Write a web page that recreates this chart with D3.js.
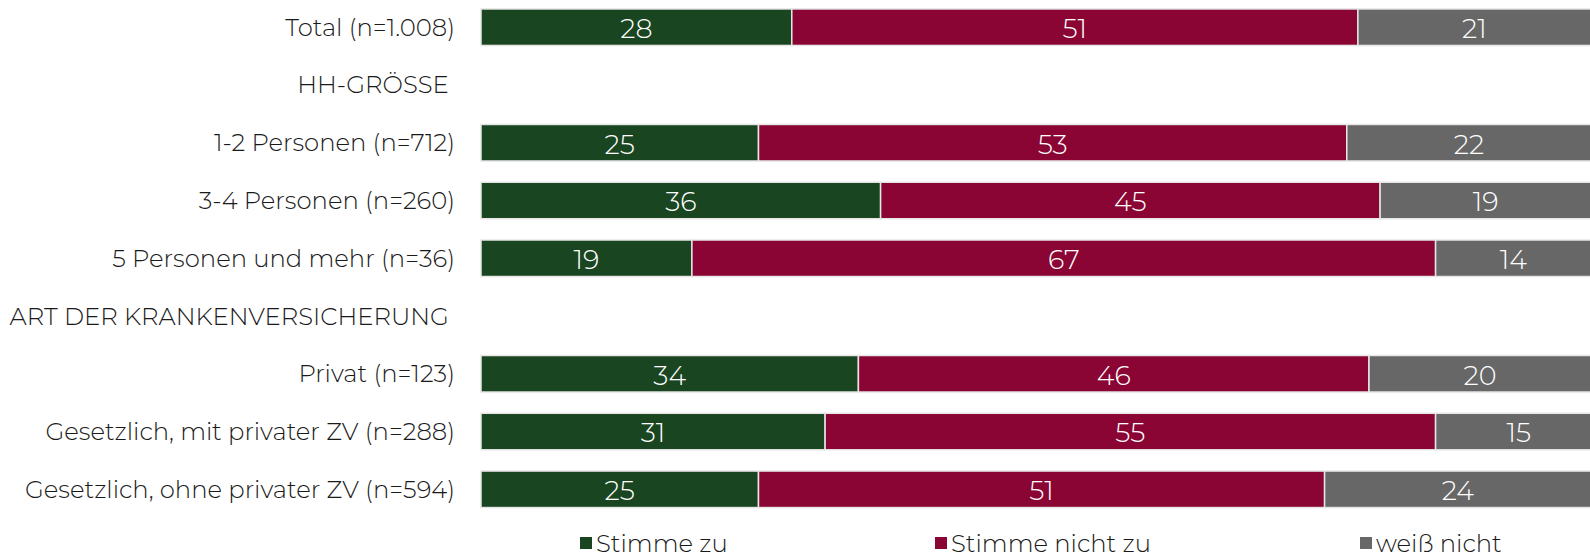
<!DOCTYPE html>
<html>
<head>
<meta charset="utf-8">
<script src="https://cdn.jsdelivr.net/npm/d3@7"></script>
<style>
  html, body { margin: 0; padding: 0; background: #fff; overflow: hidden; }
  text { font-family: "Montserrat", "Open Sans", sans-serif; font-weight: 300; }
</style>
</head>
<body>
<div class="chart"></div>
<script>
var svgWidth = 1590;
var svgHeight = 553;

// rows (header rows carry no values)
var categories = [
  "Total (n=1.008)",
  "HH-GRÖSSE\u00A0",
  "1-2 Personen (n=712)",
  "3-4 Personen (n=260)",
  "5 Personen und mehr (n=36)",
  "ART DER KRANKENVERSICHERUNG\u00A0",
  "Privat (n=123)",
  "Gesetzlich, mit privater ZV (n=288)",
  "Gesetzlich, ohne privater ZV (n=594)"
];
var agree     = [28, null, 25, 36, 19, null, 34, 31, 25];
var disagree  = [51, null, 53, 45, 67, null, 46, 55, 51];
var dontKnow  = [21, null, 22, 19, 14, null, 20, 15, 24];

var seriesNames = ["Stimme zu", "Stimme nicht zu", "weiß nicht"];
var seriesKeys = ["agree", "disagree", "dontKnow"];
var colors = ["#1a4521", "#8a0534", "#676767"];
var legendX = [580, 935, 1360];

var rows = categories.map(function(c, i) {
  return { label: c, agree: agree[i], disagree: disagree[i], dontKnow: dontKnow[i] };
});

var svg = d3.select(".chart")
  .append("svg")
  .attr("width", svgWidth)
  .attr("height", svgHeight);

var xScale = d3.scaleLinear()
  .domain([0, 100])
  .range([481, 1591]);

var yScale = d3.scaleBand()
  .domain(categories)
  .range([-12.3, 528.8])
  .padding(0.368);

var colorScale = d3.scaleOrdinal()
  .domain(seriesKeys)
  .range(colors);

var stack = d3.stack().keys(seriesKeys);
var series = stack(rows.filter(function(r) { return r.agree != null; }));

// category labels
svg.append("g")
  .selectAll("text")
  .data(categories)
  .enter()
  .append("text")
  .attr("x", 455)
  .attr("y", d => yScale(d) + yScale.bandwidth() / 2)
  .attr("dy", "0.35em")
  .attr("text-anchor", "end")
  .attr("font-size", 24.3)
  .attr("fill", "#1a1a1a")
  .style("white-space", "pre")
  .text(d => d);

var layer = svg.append("g")
  .selectAll("g")
  .data(series)
  .enter()
  .append("g")
  .attr("fill", d => colorScale(d.key));

layer.selectAll("rect")
  .data(d => d)
  .enter()
  .append("rect")
  .attr("x", d => xScale(d[0]))
  .attr("y", d => yScale(d.data.label))
  .attr("width", d => xScale(d[1]) - xScale(d[0]))
  .attr("height", yScale.bandwidth())
  .attr("stroke", "#e6e6e6")
  .attr("stroke-width", 1.5);

layer.selectAll("text")
  .data(d => d)
  .enter()
  .append("text")
  .attr("x", d => (xScale(d[0]) + xScale(d[1])) / 2)
  .attr("y", d => yScale(d.data.label) + yScale.bandwidth() / 2)
  .attr("dy", "0.4em")
  .attr("text-anchor", "middle")
  .attr("font-size", 27)
  .attr("fill", "#fff")
  .text(d => d[1] - d[0]);

// legend
var legend = svg.append("g")
  .selectAll("g")
  .data(seriesNames)
  .enter()
  .append("g")
  .attr("transform", (d, i) => `translate(${legendX[i]}, 537)`);

legend.append("rect")
  .attr("width", 12)
  .attr("height", 12)
  .attr("fill", (d, i) => colors[i]);

legend.append("text")
  .attr("x", 16)
  .attr("y", 15)
  .attr("font-size", 24.3)
  .attr("fill", "#1a1a1a")
  .text(d => d);
</script>
</body>
</html>
